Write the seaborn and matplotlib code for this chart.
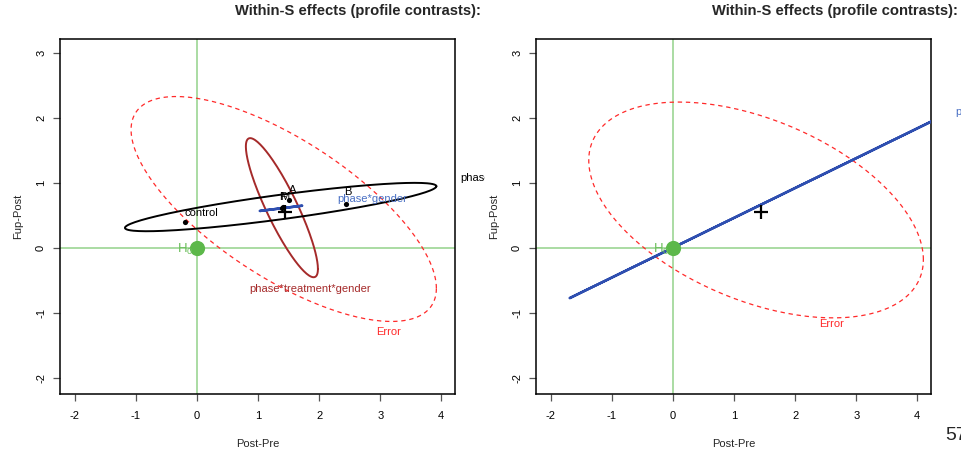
import numpy as np
import pandas as pd
import matplotlib
matplotlib.use("Agg")
import matplotlib.pyplot as plt
import seaborn as sns
from matplotlib import font_manager as fm
from matplotlib.transforms import Bbox, TransformedBbox

# ---------------- data ----------------
x_ticks = [-2, -1, 0, 1, 2, 3, 4]
y_ticks = [-2, -1, 0, 1, 2, 3]

# Left panel: HE ellipses (center, sd_x, sd_y, correlation)
left_names = ["Error", "phase*treatment*gender", "phase*treatment", "phase*gender"]
left_cx = [1.42, 1.39, 1.37, 1.375]
left_cy = [0.60, 0.62, 0.63, 0.61]
left_sx = [2.50, 0.59, 2.55, 0.345]
left_sy = [1.73, 1.07, 0.372, 0.04]
left_r = [-0.705, -0.88, 0.86, 1.0]

# Left panel: group means
mean_names = ["control", "A", "B", "F", "M"]
mean_x = [-0.197, 1.51, 2.44, 1.39, 1.40]
mean_y = [0.40, 0.74, 0.68, 0.62, 0.63]

# Right panel: HE ellipses
right_names = ["Error", "phase"]
right_cx = [1.36, 1.46]
right_cy = [0.585, 0.675]
right_sx = [2.74, 3.15]
right_sy = [1.66, 1.445]
right_r = [-0.46, 1.0]

grand_mean = (1.44, 0.55)
title_text = "Within-S effects (profile contrasts):"
page_number = "57"

# ---------------- style ----------------
sns.set_theme(style="white")


def pick(fams):
    for f in fams:
        try:
            fm.findfont(fm.FontProperties(family=f), fallback_to_default=False)
            return f
        except Exception:
            pass
    return "DejaVu Sans"


base_font = pick(["Liberation Sans", "Arial", "DejaVu Sans"])
narrow_font = pick(["Liberation Sans Narrow", "Arial Narrow"])
narrow_ok = narrow_font in ("Liberation Sans Narrow", "Arial Narrow")
if not narrow_ok:
    narrow_font = base_font
plt.rcParams["font.family"] = [base_font, "DejaVu Sans"]
plt.rcParams["mathtext.fontset"] = "custom"
plt.rcParams["mathtext.rm"] = base_font
plt.rcParams["mathtext.it"] = base_font

GREEN_LINE = "#93d28a"
GREEN_TXT = "#6cbf5c"
GREEN_DOT = "#5cb84a"
RED = "#ff2a2a"
BROWN = "#a52a2a"
BLUE = "#2f4fb0"
BLUE_TXT = "#4a70c4"

W, H = 961, 451
fig = plt.figure(figsize=(W / 100, H / 100), dpi=100)


def ellipse_df(cx, cy, sx, sy, r, n=200):
    t = np.linspace(0, 2 * np.pi, n)
    x = cx + sx * np.cos(t)
    y = cy + sy * (r * np.cos(t) + np.sqrt(max(1 - r * r, 0)) * np.sin(t))
    return pd.DataFrame({"x": x, "y": y, "i": np.arange(n)})


def setup_axes(ax):
    ax.set_xlim(-2.244, 4.225)
    ax.set_ylim(-2.246, 3.215)
    ax.set_xticks(x_ticks)
    ax.set_yticks(y_ticks)
    ax.set_xticklabels([str(v) for v in x_ticks])
    ax.set_yticklabels([str(v) for v in y_ticks], rotation=90, va="center")
    for s in ax.spines.values():
        s.set_visible(True)
        s.set_color("black")
        s.set_linewidth(1.1)
    ax.tick_params(axis="x", direction="out", length=5, width=0.9,
                   color="#555555", labelsize=8, labelcolor="black", pad=7,
                   bottom=True)
    ax.tick_params(axis="y", direction="out", length=5, width=0.9,
                   color="#555555", labelsize=8, labelcolor="black", pad=5,
                   left=True)
    ax.set_xlabel("Post-Pre", fontsize=8, labelpad=13)
    ax.set_ylabel("Fup-Post", fontsize=8, labelpad=9)
    ax.axvline(0, color=GREEN_LINE, lw=1.1, zorder=1)
    ax.axhline(0, color=GREEN_LINE, lw=1.1, zorder=1)
    sns.scatterplot(x=[0], y=[0], ax=ax, s=120, color=GREEN_DOT, edgecolor=GREEN_DOT,
                    linewidth=0, zorder=5, legend=False)
    ax.text(-0.2, -0.02, "H$_0$", color=GREEN_TXT, fontsize=9.5, ha="center",
            va="center", zorder=6)
    sns.scatterplot(x=[grand_mean[0]], y=[grand_mean[1]], ax=ax, marker="+", s=110,
                    color="black", linewidth=1.6, zorder=6, legend=False)


def draw_ellipse(ax, cx, cy, sx, sy, r, color, lw, ls="-"):
    d = ellipse_df(cx, cy, sx, sy, r)
    sns.lineplot(data=d, x="x", y="y", sort=False, estimator=None, ax=ax,
                 color=color, lw=lw, linestyle=ls, zorder=3, legend=False)


# ---------------- left panel ----------------
axL = fig.add_axes([60 / W, (H - 394) / H, 395 / W, 355 / H])
setup_axes(axL)
left_styles = [(RED, 0.9, (0, (3.5, 3))), (BROWN, 1.4, "-"), ("black", 1.4, "-"), (BLUE, 1.8, "-")]
for i in range(len(left_names)):
    c, lw, ls = left_styles[i]
    draw_ellipse(axL, left_cx[i], left_cy[i], left_sx[i], left_sy[i], left_r[i], c, lw, ls)

sns.scatterplot(x=mean_x, y=mean_y, ax=axL, s=14, color="black", linewidth=0,
                zorder=7, legend=False)
mean_label_pos = [(0.07, 0.54), (1.56, 0.89), (2.47, 0.86), (1.40, 0.79), (1.43, 0.78)]
for name, (lx, ly) in zip(mean_names, mean_label_pos):
    axL.text(lx, ly, name, fontsize=8, ha="center", va="center", color="black", zorder=8)

axL.text(3.13, -1.29, "Error", color=RED, fontsize=8, ha="center", va="center")
axL.text(1.85, -0.63, "phase*treatment*gender", color=BROWN, fontsize=8,
         ha="center", va="center")
axL.text(2.87, 0.75, "phase*gender", color=BLUE_TXT, fontsize=8, ha="center", va="center")
t = axL.text(4.31, 1.07, "phase*treatment", color="black", fontsize=8, ha="left",
             va="center", clip_on=True)
t.set_clip_box(TransformedBbox(Bbox([[0, 0], [485 / W, 1]]), fig.transFigure))

# ---------------- right panel ----------------
axR = fig.add_axes([536 / W, (H - 394) / H, 395 / W, 355 / H])
setup_axes(axR)
right_styles = [(RED, 0.9, (0, (3.5, 3))), (BLUE, 1.8, "-")]
for i in range(len(right_names)):
    c, lw, ls = right_styles[i]
    draw_ellipse(axR, right_cx[i], right_cy[i], right_sx[i], right_sy[i], right_r[i], c, lw, ls)
axR.text(2.59, -1.17, "Error", color=RED, fontsize=8, ha="center", va="center")
axR.text(4.62, 2.09, "phase", color=BLUE_TXT, fontsize=8, ha="left", va="center",
         clip_on=False)

# ---------------- titles & page number ----------------
tsize = 11.8 if narrow_ok else 10.6
for cxp in (358, 835):
    fig.text(cxp / W, 1 - 11 / H, title_text, fontsize=tsize, fontweight="bold",
             family=[narrow_font, "DejaVu Sans"], ha="center", va="center")
fig.text(945 / W, 1 - 435 / H, page_number, fontsize=14, ha="left", va="center")

fig.savefig("out.png", dpi=100)
